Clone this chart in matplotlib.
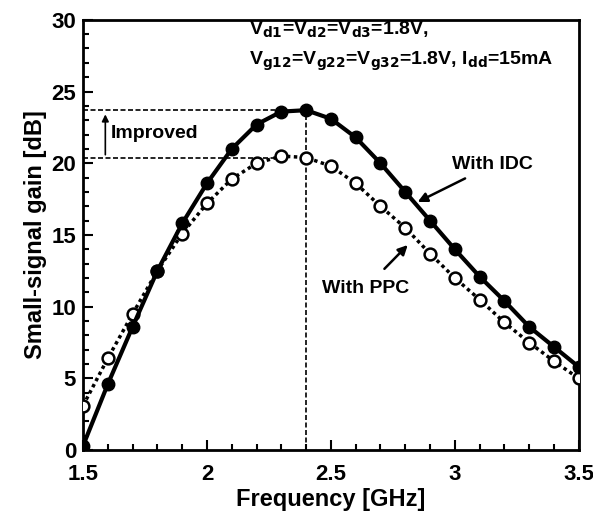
import numpy as np
import matplotlib.pyplot as plt
from matplotlib.ticker import MultipleLocator

freq = [1.5, 1.6, 1.7, 1.8, 1.9, 2.0, 2.1, 2.2, 2.3, 2.4, 2.5,
        2.6, 2.7, 2.8, 2.9, 3.0, 3.1, 3.2, 3.3, 3.4, 3.5]
gain_idc = [0.3, 4.6, 8.6, 12.5, 15.8, 18.6, 21.0, 22.7, 23.6, 23.7, 23.1,
            21.8, 20.0, 18.0, 16.0, 14.0, 12.1, 10.4, 8.6, 7.2, 5.8]
gain_ppc = [3.1, 6.4, 9.5, 12.5, 15.1, 17.2, 18.9, 20.0, 20.5, 20.4, 19.8,
            18.6, 17.0, 15.5, 13.7, 12.0, 10.5, 8.9, 7.5, 6.2, 5.0]
xticks = [1.5, 2, 2.5, 3, 3.5]
yticks = [0, 5, 10, 15, 20, 25, 30]

plt.rcParams['font.family'] = ['Liberation Sans', 'DejaVu Sans']
plt.rcParams['font.weight'] = 'bold'

fig = plt.figure(figsize=(5.93, 5.21), dpi=100)
ax = fig.add_axes([0.14, 0.136, 0.836, 0.826])

# reference lines
ax.plot([1.5, 2.3], [23.7, 23.7], 'k--', lw=1.2, dashes=(3, 1.5))
ax.plot([1.5, 2.3], [20.4, 20.4], 'k--', lw=1.2, dashes=(3, 1.5))
ax.plot([2.4, 2.4], [0, 23.7], 'k--', lw=1.2, dashes=(3, 1.5))

ax.plot(freq, gain_ppc, color='k', lw=2.5, ls=(0, (1, 1)), marker='o',
        ms=8.5, mfc='white', mec='k', mew=1.8, zorder=3)
ax.plot(freq, gain_idc, color='k', lw=3, marker='o', ms=9,
        mfc='k', mec='k', zorder=4)

ax.annotate('', xy=(1.59, 23.6), xytext=(1.59, 20.4),
            arrowprops=dict(arrowstyle='-|>', color='k', lw=1.2))
ax.text(1.612, 22.1, 'Improved', fontsize=14, fontweight='bold', va='center')

ax.text(2.17, 29.3, r'V$_{\mathbf{d1}}$=V$_{\mathbf{d2}}$=V$_{\mathbf{d3}}$=1.8V,',
        fontsize=14, fontweight='bold', va='center')
ax.text(2.17, 27.1, r'V$_{\mathbf{g12}}$=V$_{\mathbf{g22}}$=V$_{\mathbf{g32}}$=1.8V, I$_{\mathbf{dd}}$=15mA',
        fontsize=14, fontweight='bold', va='center')

ax.annotate('With IDC', xy=(2.85, 17.3), xytext=(2.99, 19.9),
            fontsize=14, fontweight='bold', va='center',
            arrowprops=dict(arrowstyle='-|>', color='k', lw=1.8,
                            shrinkA=4, shrinkB=0))
ax.annotate('With PPC', xy=(2.81, 14.3), xytext=(2.64, 11.3),
            fontsize=14, fontweight='bold', va='center', ha='center',
            arrowprops=dict(arrowstyle='-|>', color='k', lw=1.8,
                            shrinkA=8, shrinkB=0))

ax.set_xlim(1.5, 3.5)
ax.set_ylim(0, 30)
ax.set_xticks(xticks)
ax.set_xticklabels(['1.5', '2', '2.5', '3', '3.5'])
ax.set_yticks(yticks)
ax.xaxis.set_minor_locator(MultipleLocator(0.1))
ax.yaxis.set_minor_locator(MultipleLocator(1))
ax.tick_params(which='both', direction='in', width=1.5, labelsize=16)
ax.tick_params(which='major', length=7)
ax.tick_params(which='minor', length=4)
ax.tick_params(axis='x', pad=10)
ax.tick_params(axis='y', pad=5)
for lab in ax.get_xticklabels() + ax.get_yticklabels():
    lab.set_fontweight('bold')
for s in ax.spines.values():
    s.set_linewidth(2)

ax.set_xlabel('Frequency [GHz]', fontsize=17, fontweight='bold', labelpad=2)
ax.set_ylabel('Small-signal gain [dB]', fontsize=17, fontweight='bold', labelpad=3)

fig.savefig('out.png', dpi=100)
